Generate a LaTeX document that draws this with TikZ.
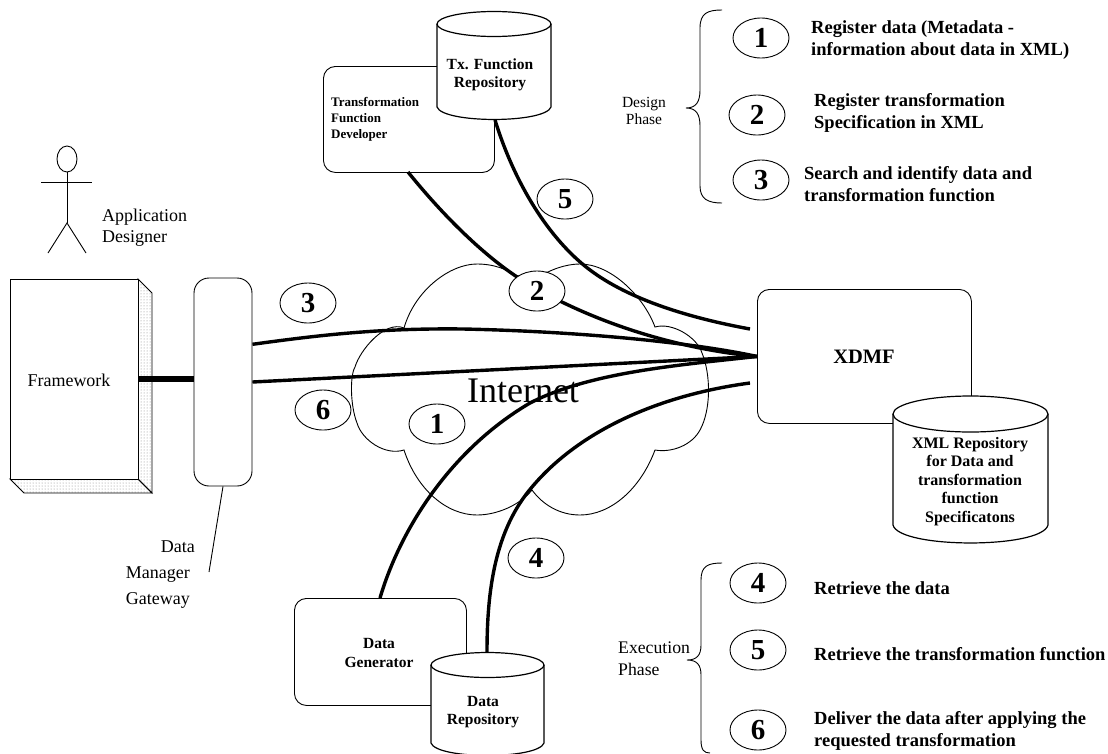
\documentclass[tikz,border=0pt]{standalone}
\usepackage{fontspec}
\setmainfont{Liberation Serif}
\usetikzlibrary{patterns}
\newcommand{\fsz}[2]{\fontsize{#1}{#2}\selectfont}
\newcommand{\cylnode}[6]{% name, x1, x2, ycentre of top ellipse, y of side bottom, ry
  \pgfmathsetmacro{\cylcx}{(#2+#3)/2}
  \pgfmathsetmacro{\cylrx}{(#3-#2)/2}
  \pgfmathsetmacro{\cylby}{#5+#6*1.33}
  \draw[thin line,fill=white,line width=1.2pt] (#2,#4) -- (#2,#5) .. controls (#2+6,\cylby) and (#3-6,\cylby) .. (#3,#5) -- (#3,#4);
  \draw[thin line,fill=white,line width=1.2pt] (\cylcx,#4) ellipse [x radius=\cylrx, y radius=#6];
  \coordinate (#1) at (\cylcx,#4);
}
\tikzset{
  thin line/.style={line width=0.9pt,draw=black},
  link/.style={line width=3.4pt,draw=black},
  roundbox/.style={draw=black,line width=0.9pt,rounded corners=12pt,fill=white,inner sep=0pt},
  numoval/.style={draw=black,line width=0.9pt,fill=white,shape=ellipse,minimum width=56pt,minimum height=40pt,inner sep=0pt,font=\bfseries\fsz{29}{30}},
  serif18/.style={font=\fsz{18}{21},inner sep=0pt,align=left},
  phase/.style={font=\fsz{15.5}{17},inner sep=0pt,align=center},
  boldtxt/.style={font=\bfseries\fsz{18.5}{22},inner sep=0pt,align=left,anchor=west},
  labelb/.style={font=\bfseries\fsz{15.5}{18.5},inner sep=0pt,align=center},
  brace/.style={line width=0.9pt,draw=black},
}
\usetikzlibrary{shapes.geometric}
\begin{document}
\begin{tikzpicture}[x=1pt,y=-1pt]
\useasboundingbox (0,0) rectangle (1108,753);
% cloud
\draw[thin line] (404,328) .. controls (415,290) and (450,264) .. (477,264) .. controls (495,264) and (508,270) .. (517,276)
  -- (548,272) .. controls (558,267) and (570,264) .. (580,264) .. controls (610,264) and (643,295) .. (655,327)
  .. controls (672,322) and (697,337) .. (702,353) .. controls (711,375) and (711,410) .. (700,430)
  .. controls (692,445) and (672,453) .. (655,450) .. controls (640,490) and (610,515) .. (580,515)
  .. controls (560,515) and (543,505) .. (532,490) .. controls (520,505) and (497,515) .. (477,515)
  .. controls (447,515) and (417,490) .. (404,450) .. controls (385,456) and (362,440) .. (357,423)
  .. controls (350,405) and (350,375) .. (355,367) .. controls (360,350) and (385,320) .. (404,328) -- cycle;
\node[font=\fsz{36}{40},inner sep=0pt] (internet) at (523,391) {Internet};
% stick figure
\draw[thin line] (67,159) ellipse [x radius=10, y radius=13];
\coordinate (neck) at (67,172);
\coordinate (hip) at (67,223);
\draw[thin line] (neck) -- (hip);
\draw[thin line] (41,182) -- (92,182);
\draw[thin line] (48,253) -- (hip) -- (86,253);
\node[serif18,anchor=west] (designer) at (102,227.5) {Application\\Designer};
% framework
\draw[thin line,pattern=dots,pattern color=gray] (138,279) -- (152,293) -- (152,493) -- (138,479) -- cycle;
\draw[thin line,pattern=dots,pattern color=gray] (10,479) -- (138,479) -- (152,493) -- (24,493) -- cycle;
\node[draw=black,line width=0.9pt,fill=white,minimum width=128pt,minimum height=200pt,inner sep=0pt,anchor=north west] (fw) at (10,279) {};
\node[font=\fsz{18}{21},inner sep=0pt] (fwlabel) at (69,380) {Framework};
% gateway
\node[roundbox,rounded corners=15pt,minimum width=58pt,minimum height=208pt] (gate) at (223,382) {};
\coordinate (gateleader) at (209,572);
\draw[thin line] (gate.south) -- (gateleader);
\node[font=\fsz{18}{26},inner sep=0pt,anchor=north east,align=right] (gatelabel) at (195,541) {Data\kern0pt\\Manager\kern5pt\\Gateway\kern5pt};
% boxes
\node[roundbox,minimum width=171pt,minimum height=106pt,anchor=north west] (tfdev) at (323,66) {};
\node[font=\bfseries\fsz{13}{16},inner sep=0pt,align=left,anchor=west] (tfdevlabel) at (331,119) {Transformation\\Function\\Developer};
\node[roundbox,minimum width=214pt,minimum height=134pt,anchor=north west] (xdmf) at (757,289) {};
\node[font=\bfseries\fsz{20.5}{24},inner sep=0pt] (xdmflabel) at (864,357) {XDMF};
\node[roundbox,minimum width=172pt,minimum height=107pt,anchor=north west] (dgen) at (294,598) {};
\node[labelb] (dgenlabel) at (379,653) {Data\\Generator};
% cylinders
\cylnode{txrepo}{437}{551}{24}{107}{12.5}
\node[labelb] (txlabel) at (490,75) {Tx. Function\\Repository};
\cylnode{xmlrepo}{893}{1048}{414}{525}{18}
\node[font=\bfseries\fsz{16}{18.5},inner sep=0pt,align=center,anchor=north] (xmllabel) at (970,437) {XML Repository\\for Data and\\transformation\\function\\Specificatons};
\cylnode{drepo}{431}{544}{665}{743}{12.5}
\node[labelb] (drlabel) at (483,712) {Data\\Repository};
% connectors
\coordinate (fwend) at (fw.east -| gate.west);
\draw[line width=6pt] (fw.east) -- (fwend);
\coordinate (txout) at (495,120);
\coordinate (tfout) at (408,172);
\coordinate (x5) at (750,329);
\coordinate (x4) at (750,383);
\coordinate (dgout) at (380,598);
\coordinate (drout) at (487,652);
% 2
\draw[link] (tfout) .. controls (445,218) and (490,262) .. (530,285) .. controls (590,320) and (670,348) .. (xdmf.west);
% 5
\draw[link] (txout) .. controls (515,185) and (550,240) .. (590,270) .. controls (630,300) and (690,318) .. (x5);
% 3
\draw[link] (gate.52) .. controls (320,335) and (380,328) .. (463,329) .. controls (560,331) and (680,340) .. (xdmf.west);
% 6
\draw[link] (gate.east) -- (xdmf.west);
% 1
\draw[link] (dgout) .. controls (400,530) and (450,450) .. (530,403) .. controls (590,372) and (680,365) .. (xdmf.west);
% 4
\draw[link] (drout) .. controls (487,590) and (495,530) .. (532,487) .. controls (580,430) and (660,395) .. (x4);
% ovals on the network
\node[numoval] (n3) at (308,303) {3};
\node[numoval] (n5) at (565,199) {5};
\node[numoval] (n2) at (537,291) {2};
\node[numoval] (n6) at (323,410) {6};
\node[numoval] (n1) at (437,424) {1};
\node[numoval] (n4) at (536,558) {4};
% design phase
\draw[brace] (722,10) .. controls (708,10) and (700,13) .. (700,28) -- (700,90) .. controls (700,102) and (696,108) .. (686,108)
  .. controls (696,108) and (700,114) .. (700,126) -- (700,186) .. controls (700,199) and (708,203) .. (722,203);
\node[phase] (designlabel) at (644,110.5) {Design\\Phase};
\node[numoval] (d1) at (761,38) {1};
\node[numoval] (d2) at (757,115) {2};
\node[numoval] (d3) at (761,180) {3};
\node[boldtxt] (t1) at (811,40) {Register data (Metadata -\\information about data in XML)};
\node[boldtxt] (t2) at (814,113) {Register transformation\\Specification in XML};
\node[boldtxt] (t3) at (804,184) {Search and identify data and\\transformation function};
% execution phase
\draw[brace] (722,563) .. controls (708,563) and (701,566) .. (701,580) -- (701,645) .. controls (701,655) and (697,660) .. (687,660)
  .. controls (697,660) and (701,665) .. (701,675) -- (701,740) .. controls (701,750) and (704,753) .. (710,753);
\node[serif18,anchor=west,font=\fsz{17.7}{22}] (execlabel) at (618,659) {Execution\\Phase};
\node[numoval] (e4) at (758,583) {4};
\node[numoval] (e5) at (758,650) {5};
\node[numoval] (e6) at (758,730) {6};
\node[boldtxt] (t4) at (814,588) {Retrieve the data};
\node[boldtxt] (t5) at (814,654) {Retrieve the transformation function};
\node[boldtxt] (t6) at (814,731) {Deliver the data after applying the\\requested transformation};
\end{tikzpicture}
\end{document}
